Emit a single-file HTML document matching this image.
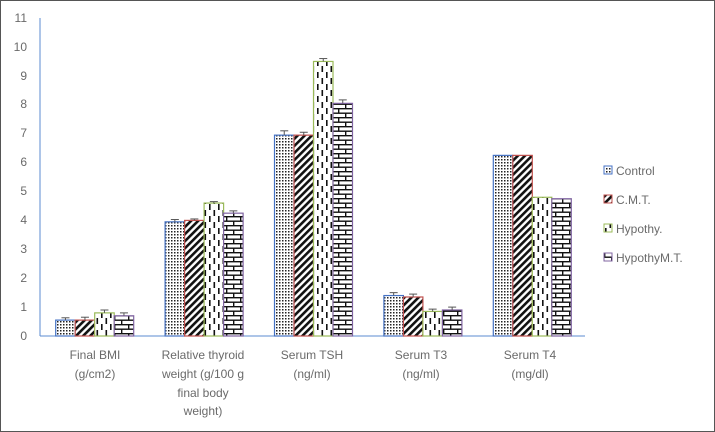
<!DOCTYPE html>
<html><head><style>
html,body{margin:0;padding:0;background:#fff}
svg{display:block;font-family:"Liberation Sans",sans-serif}
</style></head><body>
<svg width="715" height="432" viewBox="0 0 715 432" xmlns="http://www.w3.org/2000/svg">
<defs>
<pattern id="pDot" width="3" height="3" patternUnits="userSpaceOnUse"><rect width="3" height="3" fill="#fff"/><rect width="1.5" height="1.5" fill="#222"/></pattern>
<pattern id="pDiag" width="5" height="5" patternUnits="userSpaceOnUse" patternTransform="rotate(45)"><rect width="5" height="5" fill="#fff"/><rect width="2.6" height="5" fill="#111"/></pattern>
<pattern id="pDash" width="9" height="12" patternUnits="userSpaceOnUse"><rect width="9" height="12" fill="#fff"/><rect x="2" y="0" width="1.6" height="6" fill="#111"/><rect x="6.5" y="6" width="1.6" height="6" fill="#111"/></pattern>
<pattern id="pBrick" width="14" height="9" patternUnits="userSpaceOnUse"><rect width="14" height="9" fill="#fff"/><rect y="0" width="14" height="1.4" fill="#111"/><rect y="4.5" width="14" height="1.4" fill="#111"/><rect x="2" y="0" width="1.4" height="4.5" fill="#111"/><rect x="9" y="4.5" width="1.4" height="4.5" fill="#111"/></pattern>
</defs>
<rect x="0.5" y="0.5" width="714" height="431" fill="#fff" stroke="#555"/>
<g font-size="12" fill="#6a6a6a" text-anchor="end">
<text x="27" y="340">0</text><text x="27" y="311">1</text><text x="27" y="282">2</text><text x="27" y="253">3</text><text x="27" y="224">4</text><text x="27" y="195">5</text><text x="27" y="166">6</text><text x="27" y="137">7</text><text x="27" y="108">8</text><text x="27" y="80">9</text><text x="27" y="51">10</text><text x="27" y="22">11</text>
</g>
<line x1="40" y1="18" x2="40" y2="336" stroke="#5b8bd0"/>
<line x1="40" y1="336" x2="585" y2="336" stroke="#5b8bd0"/>
<g id="bars"></g>
<g font-size="12" fill="#6a6a6a" text-anchor="middle">
<text x="95" y="359">Final BMI</text><text x="95" y="378">(g/cm2)</text>
<text x="203" y="359">Relative thyroid</text><text x="203" y="378">weight (g/100 g</text><text x="203" y="397">final body</text><text x="203" y="415">weight)</text>
<text x="312" y="359">Serum TSH</text><text x="312" y="378">(ng/ml)</text>
<text x="421" y="359">Serum T3</text><text x="421" y="378">(ng/ml)</text>
<text x="530" y="359">Serum T4</text><text x="530" y="378">(mg/dl)</text>
</g>
<g font-size="12" fill="#6a6a6a">
<rect x="604" y="166" width="8" height="8" fill="url(#pDot)" stroke="#4472c4"/><text x="616" y="175">Control</text>
<rect x="604" y="195" width="8" height="8" fill="url(#pDiag)" stroke="#c0504d"/><text x="616" y="204">C.M.T.</text>
<rect x="604" y="224" width="8" height="8" fill="url(#pDash)" stroke="#9bbb59"/><text x="616" y="233">Hypothy.</text>
<rect x="604" y="253" width="8" height="8" fill="url(#pBrick)" stroke="#8064a2"/><text x="616" y="262">HypothyM.T.</text>
</g>
</svg>
<script>
var vals=[[0.55,3.95,6.95,1.4,6.25],[0.55,4.0,6.95,1.35,6.25],[0.8,4.6,9.5,0.85,4.8],[0.7,4.25,8.05,0.9,4.75]];
var err=[[0.08,0.08,0.15,0.1,0],[0.1,0.05,0.1,0.1,0],[0.1,0.05,0.1,0.08,0],[0.1,0.08,0.12,0.1,0]];
var fills=["pDot","pDiag","pDash","pBrick"],cols=["#4472c4","#c0504d","#9bbb59","#8064a2"];
var g=document.getElementById("bars"),s="";
for(var c=0;c<5;c++){var cx=40+109.4*(c+0.5),x0=cx-39;
for(var k=0;k<4;k++){var v=vals[k][c],x=x0+k*19.5,y=336-v*28.9,h=v*28.9;
s+='<rect x="'+x+'" y="'+y+'" width="19.5" height="'+h+'" fill="url(#'+fills[k]+')" stroke="'+cols[k]+'" stroke-width="1.2"/>';
if(err[k][c]>0){var ey=y-err[k][c]*28.9,mx=x+9.75;s+='<line x1="'+mx+'" y1="'+y+'" x2="'+mx+'" y2="'+ey+'" stroke="#555"/><line x1="'+(mx-4)+'" y1="'+ey+'" x2="'+(mx+4)+'" y2="'+ey+'" stroke="#555"/>';}
}}
g.innerHTML=s;
</script>
</body></html>
